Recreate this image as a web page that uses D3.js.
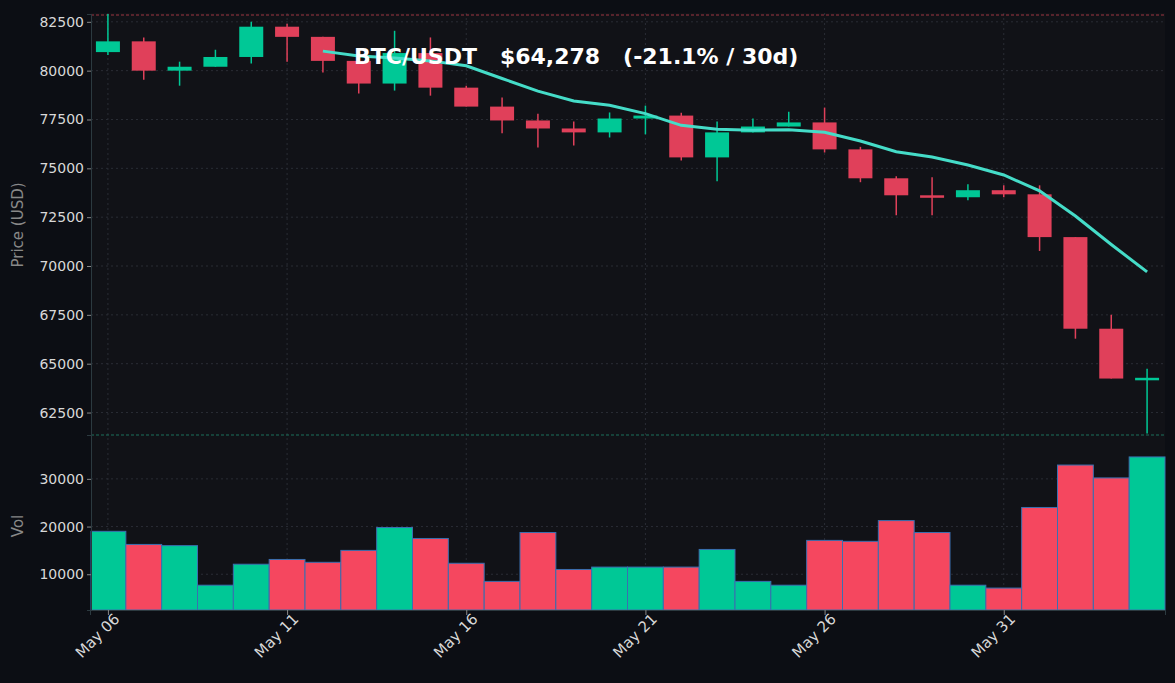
<!DOCTYPE html>
<html><head><meta charset="utf-8">
<script src="https://cdn.jsdelivr.net/npm/d3@7"></script>
<style>
body{margin:0;background:#0c0e14;font-family:"DejaVu Sans",sans-serif}
</style></head><body>
<svg id="chart" width="1175" height="683"></svg>
<script>
const dates = ["May 06","May 07","May 08","May 09","May 10","May 11","May 12","May 13","May 14","May 15","May 16","May 17","May 18","May 19","May 20","May 21","May 22","May 23","May 24","May 25","May 26","May 27","May 28","May 29","May 30","May 31","Jun 01","Jun 02","Jun 03","Jun 04"]
const opens = [80950,81500,80000,80200,80700,82250,81730,80500,79340,80900,79130,78160,77450,77040,76840,77550,77700,75560,76840,77140,77350,75970,74490,73620,73520,73880,73670,71480,66790,64240]
const closes = [81500,80000,80200,80700,82250,81730,80500,79340,80900,79130,78160,77450,77040,76840,77550,77700,75560,76840,77140,77350,75970,74490,73620,73520,73880,73670,71480,66790,64240,64278]
const highs = [82900,81700,80460,81070,82500,82400,81730,80500,82040,81700,79230,78620,77800,77400,77860,78210,77850,77400,77550,77900,78110,76100,74590,74540,74180,74130,74130,71480,67500,64740]
const lows = [80800,79540,79230,80200,80360,80460,79900,78830,78980,78720,78160,76790,76070,76170,76580,76740,75400,74340,76840,77140,75810,74290,72600,72600,73370,73520,70770,66280,64240,61430]
const maValues = [null,null,null,null,null,null,81000,80750,80650,80500,80250,79600,78950,78450,78230,77800,77200,77000,76950,76980,76850,76400,75850,75580,75170,74660,73850,72560,71100,69700]
const volumes = [19000,16250,16000,7700,12100,13100,12500,15000,19800,17500,12300,8500,18750,11000,11500,11500,11500,15200,8500,7700,17100,16900,21250,18750,7700,7100,24000,32900,30200,34600]
const priceTicks = [62500,65000,67500,70000,72500,75000,77500,80000,82500]
const volTicks = [10000,20000,30000]
const xTickIdx = [0,5,10,15,20,25]

const up = "#00c896", down = "#e0405a", downVol = "#f5475f"
const svg = d3.select("#chart")
const L = 91, R = 1165, T = 13, M = 435, B = 610

svg.append("rect").attr("x", L).attr("y", T).attr("width", R - L).attr("height", B - T).attr("fill", "#111217")

const x = d3.scaleLinear().domain([-0.5, 29.5]).range([L - 1, R])
const y = d3.scaleLinear().domain([61350, 82900]).range([M, 14])
const yv = d3.scaleLinear().domain([2500, 39200]).range([B, M])
const bw = (x(1) - x(0))

// grid
const grid = svg.append("g").attr("stroke", "#2a2d35").attr("stroke-dasharray", "2,3")
priceTicks.forEach(t => grid.append("line").attr("x1", L).attr("x2", R).attr("y1", y(t)).attr("y2", y(t)))
volTicks.forEach(t => grid.append("line").attr("x1", L).attr("x2", R).attr("y1", yv(t)).attr("y2", yv(t)))
xTickIdx.forEach(i => grid.append("line").attr("x1", x(i)).attr("x2", x(i)).attr("y1", T).attr("y2", B))

svg.append("line").attr("x1", L).attr("x2", R).attr("y1", 15).attr("y2", 15)
    .attr("stroke", "#c0404e").attr("stroke-dasharray", "3,2").attr("stroke-width", 0.8)
svg.append("line").attr("x1", L).attr("x2", R).attr("y1", M).attr("y2", M)
    .attr("stroke", "#1f8a70").attr("stroke-dasharray", "3,2").attr("stroke-width", 0.8)

// volume
svg.append("g").selectAll("rect").data(volumes).join("rect")
    .attr("x", (d, i) => Math.max(L, x(i) - bw / 2)).attr("width", (d, i) => i == 0 ? x(0) + bw / 2 - L : bw)
    .attr("y", d => yv(d)).attr("height", d => B - yv(d))
    .attr("fill", (d, i) => closes[i] >= opens[i] ? up : downVol)
    .attr("stroke", "#3a6fb0").attr("stroke-width", 1)

// candles
const cg = svg.append("g")
dates.forEach((d, i) => {
    const c = closes[i] >= opens[i] ? up : down
    cg.append("line").attr("x1", x(i)).attr("x2", x(i)).attr("y1", y(highs[i])).attr("y2", y(lows[i])).attr("stroke", c).attr("stroke-width", 1.5)
    const top = y(Math.max(opens[i], closes[i])), bot = y(Math.min(opens[i], closes[i]))
    cg.append("rect").attr("x", x(i) - 12).attr("width", 24).attr("y", top).attr("height", Math.max(bot - top, 2.5)).attr("fill", c)
})

// MA
const line = d3.line().defined(d => d != null).x((d, i) => x(i)).y(d => y(d))
svg.append("path").datum(maValues).attr("d", line).attr("fill", "none").attr("stroke", "#45dcc8").attr("stroke-width", 3)

// axes
const ya = svg.append("g").attr("transform", `translate(${L},0)`).call(d3.axisLeft(y).tickValues(priceTicks).tickFormat(d3.format("d")).tickSize(4))
const yva = svg.append("g").attr("transform", `translate(${L},0)`).call(d3.axisLeft(yv).tickValues(volTicks).tickFormat(d3.format("d")).tickSize(4))
const xa = svg.append("g").attr("transform", `translate(0,${B})`).call(d3.axisBottom(x).tickValues(xTickIdx).tickFormat(i => dates[i]).tickSize(5))
;[ya, yva, xa].forEach(a => {
    a.attr("font-family", null).attr("font-size", null)
    a.selectAll("text").attr("fill", "#d8d8d8").style("font-size", "14px").style("font-family", "DejaVu Sans")
    a.selectAll("line").attr("stroke", "#888")
    a.select(".domain").attr("stroke", "#2c3a40")
})
xa.selectAll("text").style("font-size", "15px").attr("transform", "rotate(-45)").attr("text-anchor", "end").attr("dx", "0.1em").attr("dy", "0.5em")

svg.append("text").attr("transform", "translate(23,225) rotate(-90)").attr("text-anchor", "middle")
    .attr("fill", "#888").style("font-size", "15px").text("Price (USD)")
svg.append("text").attr("transform", "translate(23,526) rotate(-90)").attr("text-anchor", "middle")
    .attr("fill", "#888").style("font-size", "15px").text("Vol")

svg.append("text").attr("x", 354).attr("y", 64).attr("fill", "#fff").style("font-size", "22px").style("font-weight", "bold")
    .attr("xml:space", "preserve").text("BTC/USDT   $64,278   (-21.1% / 30d)")
</script>
</body></html>
